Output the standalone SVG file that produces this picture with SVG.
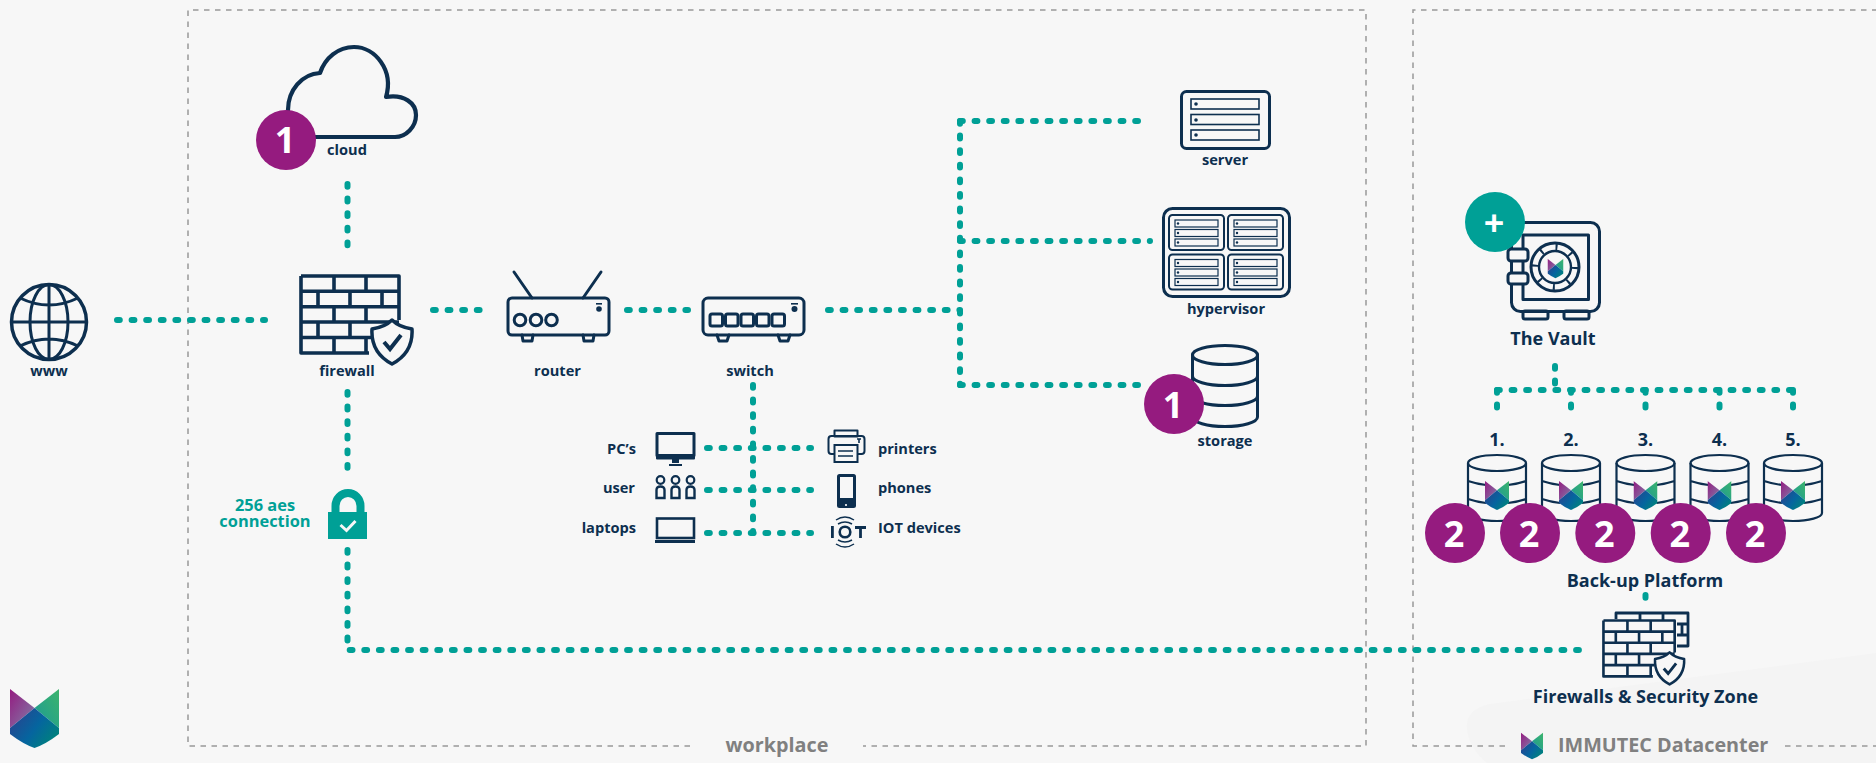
<svg xmlns="http://www.w3.org/2000/svg" xmlns:xlink="http://www.w3.org/1999/xlink" width="1876" height="763" viewBox="0 0 1876 763">
<style>
text{font-family:"Open Sans","Liberation Sans",sans-serif;font-weight:700;fill:#0d2f4f}
.l{font-size:14.600px;text-anchor:middle}
.le{font-size:14.600px;text-anchor:end}
.ls{font-size:14.600px}
.h{font-size:18px;text-anchor:middle}
.g{font-size:19.800px;fill:#808080}
.t{font-size:16.400px;fill:#00a096;text-anchor:middle}
.n{font-size:36px;fill:#fff;text-anchor:middle}
.pu{fill:#951b7f}
.s{fill:none;stroke:#0d2f4f;stroke-width:3;stroke-linejoin:round;stroke-linecap:round}
.s2{fill:none;stroke:#0d2f4f;stroke-width:2;stroke-linejoin:round}
.bgf{fill:#f7f7f7}
.dk{fill:#0d2f4f}
.box{fill:none;stroke:#999;stroke-width:1.5;stroke-dasharray:5.5 5.5}
.c{fill:none;stroke:#00a096;stroke-width:6;stroke-linecap:round;stroke-dasharray:2.800 11.800}
</style>
<defs>
<linearGradient id="lgA" x1="0" y1="0" x2="1" y2="1"><stop offset="0" stop-color="#951b81"/><stop offset="1" stop-color="#7f7fa8"/></linearGradient>
<linearGradient id="lgB" x1="1" y1="0" x2="0" y2="1"><stop offset="0" stop-color="#3cb46c"/><stop offset="1" stop-color="#1c9a96"/></linearGradient>
<linearGradient id="lgC" x1="0" y1="0" x2="1" y2="0.6"><stop offset="0" stop-color="#2f3d8c"/><stop offset="0.6" stop-color="#05659f"/><stop offset="1" stop-color="#00807f"/></linearGradient>
<symbol id="logo" viewBox="0 0 49 59">
<path d="M0 0L24.5 19L0 39Z" fill="url(#lgA)"/>
<path d="M49 0V39L24.5 19Z" fill="url(#lgB)"/>
<path d="M24.5 19L49 39V45Q36 55 24.5 59Q13 55 0 45V39Z" fill="url(#lgC)"/>
</symbol>
<symbol id="fw" viewBox="0 0 116 92">
<path d="M2 2H100V46M2 2V79H70M2 17.300H100M2 32.700H100M2 48H100M2 63.500H72M35 2V17M67 2V17M19 17V32.700M51 17V32.700M83 17V32.700M35 32.700V48M67 32.700V48M19 48V63.500M51 48V63.500M35 63.500V79M67 63.500V79" fill="none" stroke="#0d2f4f" stroke-width="3.600" stroke-linejoin="round"/>
<path d="M93 46C98 51 106 54 113 55C114 71 106 83 93 90C80 83 72 71 73 55C80 54 88 51 93 46Z" fill="#f7f7f7" stroke="#0d2f4f" stroke-width="3.500" stroke-linejoin="round"/>
<path d="M85 68L91 75L102 61" fill="none" stroke="#0d2f4f" stroke-width="4"/>
</symbol>
<g id="blade">
<rect x="0" y="0" width="55" height="35" rx="3.5" class="s2"/>
<rect x="6" y="5" width="43" height="7" fill="none" stroke="#0d2f4f" stroke-width="1.2"/>
<rect x="6" y="14.5" width="43" height="7" fill="none" stroke="#0d2f4f" stroke-width="1.2"/>
<rect x="6" y="24" width="43" height="7" fill="none" stroke="#0d2f4f" stroke-width="1.2"/>
<circle cx="9" cy="8.5" r="1.2" class="dk"/><circle cx="9" cy="18" r="1.2" class="dk"/><circle cx="9" cy="27.5" r="1.2" class="dk"/>
</g>
<g id="cyl">
<ellipse cx="0" cy="463" rx="29" ry="8" fill="none" stroke="#0d2f4f" stroke-width="2.2"/>
<path d="M-29 463V513A29 8 0 0 0 29 513V463M-29 481Q-20 484 -11 485M29 481Q20 484 11 485M-29 499Q-20 502 -11 503M29 499Q20 502 11 503" fill="none" stroke="#0d2f4f" stroke-width="2.2"/>
<use href="#logo" x="-12" y="481" width="24" height="29"/>
</g>
<g id="usr">
<circle cx="0" cy="480" r="3.8" fill="none" stroke="#0d2f4f" stroke-width="2.2"/>
<path d="M-4 498V490Q-4 486.500 0 486.500Q4 486.500 4 490V498Z" fill="none" stroke="#0d2f4f" stroke-width="2.400"/>
</g>
</defs>
<rect width="1876" height="763" class="bgf"/>
<path d="M1487 763C1470 750 1458 722 1475 710Q1480 706 1490 704L1876 653V763Z" fill="#f4f4f4"/>

<g id="workplace-zone">
<path class="box" d="M690 746H188V10H1366V746H863"/>
<text class="g" x="777" y="752" text-anchor="middle">workplace</text>
</g>
<g id="datacenter-zone">
<path class="box" d="M1505 746H1413V10H1876M1785 746H1876"/>
<use href="#logo" x="1521" y="732" width="22" height="28"/>
<text class="g" x="1558" y="752">IMMUTEC Datacenter</text>
</g>

<g id="connectors">
<path class="c" d="M347.5 184V253"/>
<path class="c" d="M117 320H265"/>
<path class="c" d="M433 310H486"/>
<path class="c" d="M627 310H688"/>
<path class="c" d="M828 310H960"/>
<path class="c" d="M960 121V385"/>
<path class="c" d="M960 121H1138"/>
<path class="c" d="M960 241H1150"/>
<path class="c" d="M960 385H1138"/>
<path class="c" d="M753 385V533"/>
<path class="c" d="M707 448H811"/>
<path class="c" d="M707 490H811"/>
<path class="c" d="M707 533H811"/>
<path class="c" d="M347.5 392V478"/>
<path class="c" d="M347.5 550V650H1586"/>
<path class="c" d="M1555 366V390"/>
<path class="c" d="M1497 390H1793"/>
<path class="c" d="M1497 390V412"/>
<path class="c" d="M1571 390V412"/>
<path class="c" d="M1645.5 390V412"/>
<path class="c" d="M1719.5 390V412"/>
<path class="c" d="M1793 390V412"/>
<path class="c" d="M1645.5 595V605"/>
</g>

<g id="www">
<circle cx="49" cy="322" r="37.5" fill="none" stroke="#0d2f4f" stroke-width="3.5"/>
<ellipse cx="49" cy="322" rx="19" ry="37.5" fill="none" stroke="#0d2f4f" stroke-width="3"/>
<path d="M49 284V360M12 322H87M20 298Q49 312 78 298M20 346Q49 332 78 346" fill="none" stroke="#0d2f4f" stroke-width="3"/>
<text class="l" x="49" y="376">www</text>
</g>
<g id="cloud">
<path d="M300 137H395C406 137 416 127 416 115C416 103 404 94 386 97C394 70 375 47 354 47C338 47 325 58 320 73C302 74 288 90 288 110V125" fill="none" stroke="#0d2f4f" stroke-width="4.200" stroke-linejoin="round"/>
<circle cx="286" cy="140" r="30" class="pu"/>
<text class="n" x="285" y="153">1</text>
<text class="l" x="347" y="155">cloud</text>
</g>
<g id="firewall">
<use href="#fw" x="299" y="274" width="116" height="92"/>
<text class="l" x="347" y="376">firewall</text>
</g>
<g id="router">
<path class="s" d="M514 272L532 298M601 272L583 298"/>
<rect x="508" y="298" width="101" height="37" rx="4" class="s"/>
<circle cx="520" cy="320" r="5.8" class="s"/><circle cx="536" cy="320" r="5.8" class="s"/><circle cx="551.500" cy="320" r="5.8" class="s"/>
<circle cx="599" cy="309" r="2.8" class="dk"/><rect x="596" y="303" width="6" height="1.6" class="dk"/>
<path class="s" d="M522 335L523 341H532L533 335M583 335L584 341H593L594 335"/>
<text class="l" x="557.500" y="376">router</text>
</g>
<g id="switch">
<rect x="703" y="298" width="101" height="37" rx="5" class="s"/>
<rect x="710" y="314" width="12.500" height="12" rx="2" class="s"/><rect x="725.500" y="314" width="12.500" height="12" rx="2" class="s"/><rect x="741" y="314" width="12.500" height="12" rx="2" class="s"/><rect x="756.500" y="314" width="12.500" height="12" rx="2" class="s"/><rect x="772" y="314" width="12.500" height="12" rx="2" class="s"/>
<circle cx="794.500" cy="309" r="3" class="dk"/><rect x="791" y="303" width="7" height="1.6" class="dk"/>
<path class="s" d="M717 335L719 341H727L729 335M778 335L780 341H788L790 335"/>
<text class="l" x="750" y="376">switch</text>
</g>
<g id="server">
<rect x="1181.500" y="91.500" width="88" height="57" rx="5" class="s"/>
<rect x="1191" y="99" width="68" height="10" fill="none" stroke="#0d2f4f" stroke-width="1.6"/>
<rect x="1191" y="114.500" width="68" height="10" fill="none" stroke="#0d2f4f" stroke-width="1.6"/>
<rect x="1191" y="130" width="68" height="10" fill="none" stroke="#0d2f4f" stroke-width="1.6"/>
<circle cx="1196" cy="104" r="1.8" class="dk"/><circle cx="1196" cy="120" r="1.8" class="dk"/><circle cx="1196" cy="135" r="1.8" class="dk"/>
<text class="l" x="1225" y="165">server</text>
</g>
<g id="hypervisor">
<rect x="1163.500" y="208.500" width="126" height="88" rx="9" class="s"/>
<use href="#blade" x="1169" y="215"/><use href="#blade" x="1228" y="215"/><use href="#blade" x="1169" y="254.500"/><use href="#blade" x="1228" y="254.500"/>
<text class="l" x="1226" y="314">hypervisor</text>
</g>
<g id="storage">
<ellipse cx="1225" cy="355" rx="32.500" ry="9.500" class="s"/>
<path class="s" d="M1192.500 355V417A32.500 9.500 0 0 0 1257.500 417V355M1192.500 376A32.500 9.500 0 0 0 1257.500 376M1192.500 396A32.500 9.500 0 0 0 1257.500 396"/>
<circle cx="1174" cy="404" r="30" class="pu"/>
<text class="n" x="1173" y="418">1</text>
<text class="l" x="1225" y="446">storage</text>
</g>
<g id="pcs">
<text class="le" x="636" y="454">PC’s</text>
<rect x="657" y="433.500" width="37" height="22" class="s"/>
<rect x="656" y="455" width="39" height="4.500" rx="1" class="dk"/>
<rect x="672" y="459" width="7" height="4" class="dk"/><rect x="669" y="464" width="13" height="2" class="dk"/>
</g>
<g id="user">
<text class="le" x="635" y="493">user</text>
<use href="#usr" x="660.500"/><use href="#usr" x="675.500"/><use href="#usr" x="690.500"/>
</g>
<g id="laptops">
<text class="le" x="636" y="533">laptops</text>
<rect x="657" y="518.500" width="37" height="19.500" fill="none" stroke="#0d2f4f" stroke-width="2.600"/>
<rect x="655" y="540" width="40" height="3" class="dk"/>
</g>
<g id="printers">
<rect x="834.500" y="430.500" width="23" height="6" class="s2"/>
<rect x="828.500" y="436" width="36" height="18" rx="3" class="s2"/>
<rect x="834.500" y="445" width="23" height="17" fill="#f7f7f7" stroke="#0d2f4f" stroke-width="2"/>
<path d="M838 451H853M838 456H853M857 439H861M859 439V443" fill="none" stroke="#0d2f4f" stroke-width="1.600"/>
<text class="ls" x="878" y="454">printers</text>
</g>
<g id="phones">
<rect x="837" y="474" width="19" height="34" rx="2.500" class="dk"/>
<rect x="840" y="477" width="13" height="21" class="bgf"/>
<circle cx="846" cy="505" r="1.100" fill="#fff"/>
<text class="ls" x="878" y="493">phones</text>
</g>
<g id="iot">
<rect x="831" y="526" width="2.800" height="12" class="dk"/>
<circle cx="845" cy="532" r="5.300" fill="none" stroke="#0d2f4f" stroke-width="2.600"/>
<path d="M855 527.500H866M860.500 527.500V538" fill="none" stroke="#0d2f4f" stroke-width="2.800"/>
<path d="M838 524Q845 520 852 524M836 520Q845 514 854 520M838 540Q845 544 852 540M836 544Q845 550 854 544" fill="none" stroke="#0d2f4f" stroke-width="1.500"/>
<text class="ls" x="878" y="533">IOT devices</text>
</g>
<g id="aes-lock">
<path d="M335.500 513V506A12.500 13 0 0 1 360.500 506V513" fill="none" stroke="#00a096" stroke-width="8"/>
<rect x="328" y="512" width="39" height="27" fill="#00a096"/>
<path d="M340.500 525L346.500 530.500L355.500 521" fill="none" stroke="#f7f7f7" stroke-width="3"/>
<text class="t" x="265" y="511">256 aes</text>
<text class="t" x="265" y="527">connection</text>
</g>
<g id="logo-corner"><use href="#logo" x="10" y="689" width="49" height="59"/></g>
<g id="vault">
<rect x="1511.500" y="222.500" width="88" height="89" rx="9" class="s"/>
<rect x="1523" y="235" width="65.500" height="64.500" class="s"/>
<rect x="1523" y="311" width="25" height="8" rx="2" class="s"/><rect x="1564" y="311" width="25" height="8" rx="2" class="s"/>
<circle cx="1555" cy="267" r="24" class="s"/>
<circle cx="1555" cy="267" r="16" fill="none" stroke="#0d2f4f" stroke-width="2.400"/>
<circle cx="1555" cy="267" r="20" fill="none" stroke="#0d2f4f" stroke-width="6" stroke-dasharray="2 13.700"/>
<rect x="1508" y="249" width="20" height="12" rx="3" fill="#f7f7f7" stroke="#0d2f4f" stroke-width="3"/>
<rect x="1508" y="273" width="20" height="11" rx="3" fill="#f7f7f7" stroke="#0d2f4f" stroke-width="3"/>
<use href="#logo" x="1547.500" y="258" width="16" height="21"/>
<circle cx="1495" cy="222" r="30" fill="#00a096"/>
<text class="n" x="1494" y="236">+</text>
<text class="h" x="1553" y="345">The Vault</text>
</g>
<g id="backup-1"><text class="h" x="1497" y="446">1.</text><use href="#cyl" x="1497"/></g>
<g id="backup-2"><text class="h" x="1571" y="446">2.</text><use href="#cyl" x="1571"/></g>
<g id="backup-3"><text class="h" x="1645.500" y="446">3.</text><use href="#cyl" x="1645.500"/></g>
<g id="backup-4"><text class="h" x="1719.500" y="446">4.</text><use href="#cyl" x="1719.500"/></g>
<g id="backup-5"><text class="h" x="1793" y="446">5.</text><use href="#cyl" x="1793"/></g>
<g id="badges">
<circle cx="1455" cy="533" r="30" class="pu"/><text class="n" x="1454" y="547">2</text>
<circle cx="1530" cy="533" r="30" class="pu"/><text class="n" x="1529" y="547">2</text>
<circle cx="1605.300" cy="533" r="30" class="pu"/><text class="n" x="1604.300" y="547">2</text>
<circle cx="1680.700" cy="533" r="30" class="pu"/><text class="n" x="1679.700" y="547">2</text>
<circle cx="1756" cy="533" r="30" class="pu"/><text class="n" x="1755" y="547">2</text>
</g>
<g id="backup-label"><text class="h" x="1645" y="587">Back-up Platform</text></g>
<g id="security-zone">
<path d="M1616 619V613H1688V646H1677M1640 613V620M1663 613V620M1677 624H1688M1677 635H1688M1682 624V635" fill="none" stroke="#0d2f4f" stroke-width="2.800" stroke-linejoin="round"/>
<use href="#fw" x="1602" y="619" width="84.300" height="66.900"/>
<text class="h" x="1645.500" y="703">Firewalls &amp; Security Zone</text>
</g>
</svg>
